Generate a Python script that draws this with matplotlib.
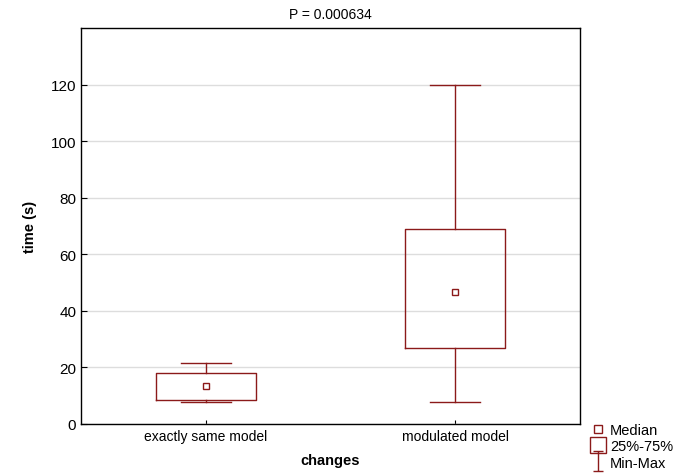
import matplotlib.pyplot as plt
from matplotlib.lines import Line2D
from matplotlib.path import Path

plt.rcParams['font.family'] = ['Liberation Sans', 'DejaVu Sans']

categories = ['exactly same model', 'modulated model']
mins = [7.7, 7.7]
q1 = [8.4, 27.0]
medians = [13.3, 46.8]
q3 = [18.1, 69.0]
maxs = [21.5, 120.0]
yticks = [0, 20, 40, 60, 80, 100, 120]

red = '#8b1a1a'

fig = plt.figure(figsize=(6.78, 4.77), dpi=100)
ax = fig.add_axes([81 / 678, 1 - 425 / 477, 499 / 678, 396 / 477])

stats = []
for i, name in enumerate(categories):
    stats.append({'label': name, 'whislo': mins[i], 'q1': q1[i], 'med': medians[i],
                  'q3': q3[i], 'whishi': maxs[i], 'fliers': []})

ax.bxp(stats, positions=[0, 1], widths=0.4, showfliers=False,
       boxprops=dict(color=red, linewidth=1),
       whiskerprops=dict(color=red, linewidth=1),
       capprops=dict(color=red, linewidth=1),
       medianprops=dict(linewidth=0), capwidths=0.2, zorder=3)
ax.plot([0, 1], medians, 's', ms=5, mfc='white', mec=red, mew=1, zorder=4)

ax.set_xlim(-0.5, 1.5)
ax.set_ylim(0, 140)
ax.set_yticks(yticks)
ax.yaxis.grid(True, color='#dddddd', linewidth=1, zorder=0)
ax.set_axisbelow(True)
ax.tick_params(axis='y', direction='in', length=4, labelsize=11)
ax.tick_params(axis='x', direction='in', length=3, labelsize=10)
for s in ax.spines.values():
    s.set_linewidth(1)

ax.set_title('P = 0.000634', fontsize=10, pad=7)
ax.set_ylabel('time (s)', fontweight='bold', fontsize=10.5, labelpad=10)
ax.set_xlabel('changes', fontweight='bold', fontsize=10.5, labelpad=7)

# I-shaped marker for Min-Max
ibar = Path([(-0.5, -1), (0.5, -1), (0, -1), (0, 1), (-0.5, 1), (0.5, 1)],
            [Path.MOVETO, Path.LINETO, Path.MOVETO, Path.LINETO, Path.MOVETO, Path.LINETO])
handles = [
    Line2D([], [], marker='s', ls='none', ms=6, mfc='white', mec=red),
    Line2D([], [], marker='s', ls='none', ms=12, mfc='white', mec=red),
    Line2D([], [], marker=ibar, ls='none', ms=15, mfc='none', mec=red),
]
fig.legend(handles, ['Median', '25%-75%', 'Min-Max'], loc='lower left',
           bbox_to_anchor=(578 / 678, -0.014), frameon=False, fontsize=10.5,
           handlelength=1, handletextpad=0.3, labelspacing=0.15)

fig.savefig('out.png', dpi=100)
